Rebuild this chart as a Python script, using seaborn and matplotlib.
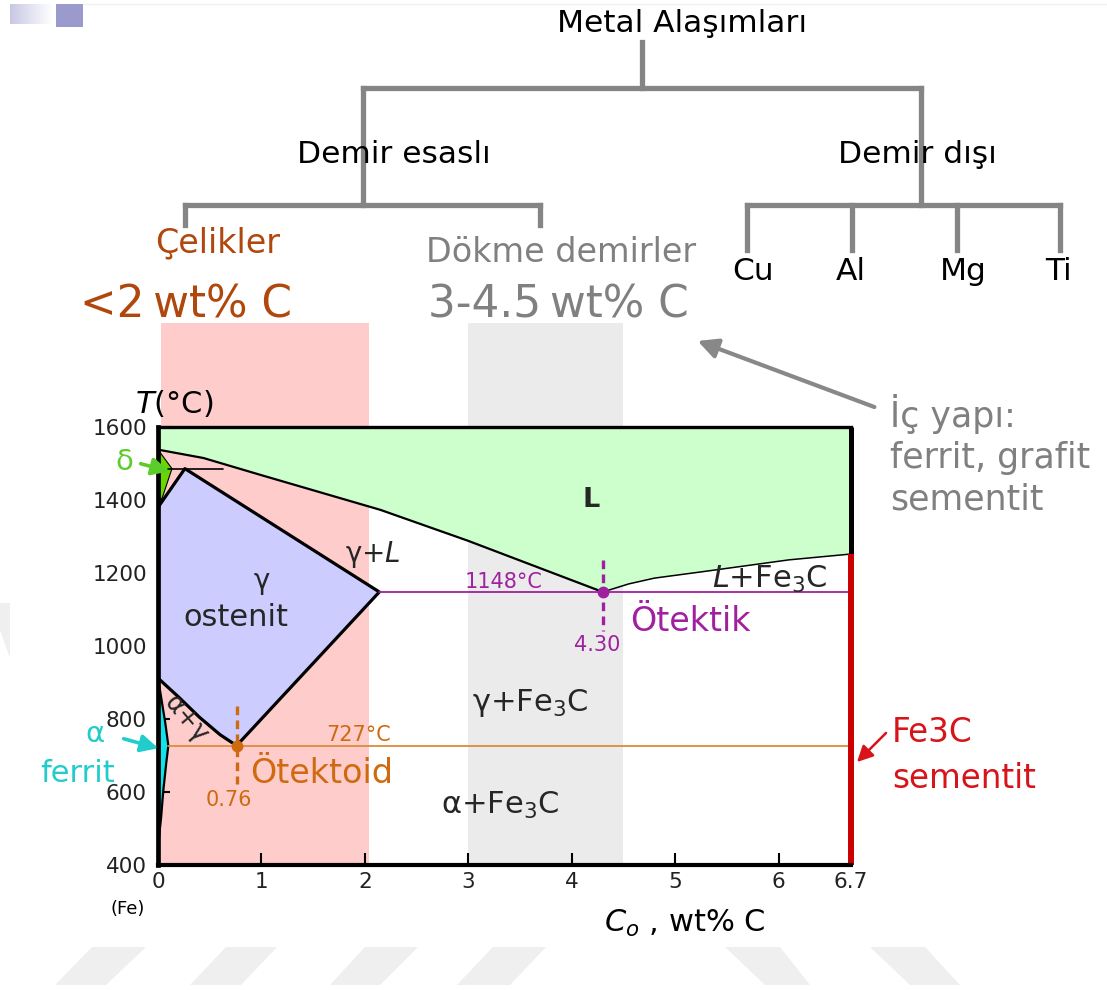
import numpy as np
import matplotlib
matplotlib.use("Agg")
import matplotlib.pyplot as plt
import seaborn as sns
from matplotlib.patches import Polygon, Rectangle

sns.set_theme(style="white")
plt.rcParams['font.family'] = ['DejaVu Sans']
plt.rcParams['mathtext.fontset'] = 'dejavusans'

# ---------------- data (wt% C, °C) ----------------
steel_range = [0.03, 2.04]          # Çelikler  (<2 wt% C)
cast_iron_range = [3.0, 4.5]        # Dökme demirler (3-4.5 wt% C)
band_top = 1885

liq_left_c = [0.0, 0.44, 1.0, 2.15, 3.0, 4.3]
liq_left_t = [1538, 1515, 1468, 1373, 1288, 1148]
liq_right_c = [4.3, 4.55, 4.8, 5.25, 6.1, 6.7]
liq_right_t = [1148, 1170, 1186, 1203, 1236, 1252]

delta_c = [0.0, 0.135, 0.04, 0.0]
delta_t = [1538, 1486, 1405, 1400]

gamma_c = [0.0, 0.26, 2.14, 0.76, 0.6, 0.4, 0.2, 0.0]
gamma_t = [1380, 1486, 1148, 727, 757, 805, 860, 912]

alpha_c = [0.0, 0.03, 0.07, 0.1, 0.08, 0.05, 0.03, 0.0]
alpha_t = [912, 860, 790, 727, 680, 600, 530, 450]

peritectic_c = [0.1, 0.63]
peritectic_t = 1486

eutectic_c, eutectic_t = 4.30, 1148
eutectoid_c, eutectoid_t = 0.76, 727
cementite_c = 6.7

x_ticks = [0, 1, 2, 3, 4, 5, 6, 6.7]
x_tick_labels = ["0", "1", "2", "3", "4", "5", "6", "6.7"]
y_ticks = [400, 600, 800, 1000, 1200, 1400, 1600]

# alloy tree
tree_root = "Metal Alaşımları"
tree_branches = ["Demir esaslı", "Demir dışı"]
nonferrous = ["Cu", "Al", "Mg", "Ti"]

# ---------------- colours ----------------
c_liquid = "#ccffcc"
c_gamma = "#ccccff"
c_delta = "#6ad600"
c_alpha = "#14e2ea"
c_steel = "#ffcccc"
c_cast = "#ebebeb"
c_purple = "#a020a0"
c_orange_line = "#e28a3a"
c_orange = "#d06a10"
c_red = "#d7141a"
c_grey = "#858585"
c_brown = "#b0470c"

fig = plt.figure(figsize=(11.07, 9.90), dpi=100)
fig.patch.set_facecolor("white")

ax = fig.add_axes([158 / 1107, (990 - 865) / 990, (851 - 158) / 1107, (865 - 427) / 990], zorder=2)
ax.set_xlim(0, 6.7)
ax.set_ylim(400, 1600)
ax.set_facecolor("white")

# composition bands
ax.add_patch(Rectangle((steel_range[0], 400), steel_range[1] - steel_range[0], band_top - 400,
                       facecolor=c_steel, edgecolor="none", clip_on=False, zorder=0))
ax.add_patch(Rectangle((cast_iron_range[0], 400), cast_iron_range[1] - cast_iron_range[0], band_top - 400,
                       facecolor=c_cast, edgecolor="none", clip_on=False, zorder=0))

# phase fields
liq_poly = ([(0, 1600), (6.7, 1600)] + list(zip(liq_right_c[::-1], liq_right_t[::-1]))
            + list(zip(liq_left_c[::-1], liq_left_t[::-1])))
ax.add_patch(Polygon(liq_poly, closed=True, facecolor=c_liquid, edgecolor="none", zorder=1))
ax.add_patch(Polygon(list(zip(gamma_c, gamma_t)), closed=True, facecolor=c_gamma, edgecolor="none", zorder=1))
ax.add_patch(Polygon(list(zip(delta_c, delta_t)), closed=True, facecolor=c_delta, edgecolor="black", lw=0.8, zorder=1))
ax.add_patch(Polygon(list(zip(alpha_c, alpha_t)), closed=True, facecolor=c_alpha, edgecolor="none", zorder=1))

# phase boundaries
sns.lineplot(x=liq_left_c, y=liq_left_t, sort=False, estimator=None, color="black", lw=1.6, ax=ax, zorder=3)
sns.lineplot(x=liq_right_c, y=liq_right_t, sort=False, estimator=None, color="black", lw=1.1, ax=ax, zorder=3)
sns.lineplot(x=gamma_c, y=gamma_t, sort=False, estimator=None, color="black", lw=2.3, ax=ax, zorder=3)
sns.lineplot(x=alpha_c, y=alpha_t, sort=False, estimator=None, color="black", lw=1.6, ax=ax, zorder=3)
sns.lineplot(x=peritectic_c, y=[peritectic_t] * 2, sort=False, estimator=None, color="black", lw=1.2, ax=ax, zorder=3)

# eutectic and eutectoid isotherms
sns.lineplot(x=[gamma_c[2], cementite_c], y=[eutectic_t] * 2, sort=False, estimator=None,
             color=c_purple, lw=1.3, ax=ax, zorder=3)
sns.lineplot(x=[alpha_c[3], cementite_c], y=[eutectoid_t] * 2, sort=False, estimator=None,
             color=c_orange_line, lw=1.3, ax=ax, zorder=3)
ax.plot([eutectic_c] * 2, [1236, 1040], color=c_purple, lw=2.4, ls=(0, (2.6, 1.6)), zorder=3)
ax.plot([eutectoid_c] * 2, [836, 622], color=c_orange, lw=2.4, ls=(0, (2.6, 1.6)), zorder=3)
ax.plot([eutectic_c], [eutectic_t], "o", color=c_purple, ms=7.5, zorder=4)
ax.plot([eutectoid_c], [eutectoid_t], "o", color=c_orange, ms=7.5, zorder=4)

# frame, with the Fe3C line forming the right edge
ax.spines["right"].set_visible(False)
ax.spines["left"].set_linewidth(3.4)
ax.spines["bottom"].set_linewidth(3.0)
ax.spines["top"].set_linewidth(2.4)
for s in ["left", "bottom", "top"]:
    ax.spines[s].set_color("black")
    ax.spines[s].set_zorder(5)
ax.plot([cementite_c] * 2, [1600, liq_right_t[-1]], color="black", lw=3.6, clip_on=False, zorder=5,
        solid_capstyle="butt")
ax.plot([cementite_c] * 2, [liq_right_t[-1], 400], color="#cc0000", lw=4.3, clip_on=False, zorder=5,
        solid_capstyle="butt")

ax.set_xticks(x_ticks)
ax.set_xticklabels(x_tick_labels)
ax.set_yticks(y_ticks)
ax.tick_params(axis="both", direction="in", length=8.5, width=1.5, colors="black",
               labelsize=15.5, labelcolor="#222222", bottom=True, left=True)
ax.tick_params(axis="y", pad=8)
ax.tick_params(axis="x", pad=5)
ax.set_xlabel("")
ax.set_ylabel("")
ax.grid(False)

# field labels
ax.text(4.19, 1400, "L", fontsize=19.5, fontweight="bold", ha="center", va="center", zorder=6)
ax.text(1.81, 1230, "γ+$L$", fontsize=20, ha="left", va="baseline", zorder=6)
ax.text(1.0, 1178, "γ", fontsize=20, ha="center", va="center", zorder=6)
ax.text(0.75, 1079, "ostenit", fontsize=22, ha="center", va="center", zorder=6)
ax.text(3.34, 1175, "1148°C", fontsize=15, color=c_purple, ha="center", va="center", zorder=6)
ax.text(5.36, 1159, "$L$+Fe$_3$C", fontsize=22, ha="left", va="baseline", zorder=6)
ax.text(4.56, 1041, "Ötektik", fontsize=24, color=c_purple, ha="left", va="baseline", zorder=6)
ax.text(4.25, 1003, "4.30", fontsize=15, color=c_purple, ha="center", va="center", zorder=6)
ax.text(3.6, 844, "γ+Fe$_3$C", fontsize=22, ha="center", va="center", zorder=6)
ax.text(1.63, 740, "727°C", fontsize=15, color=c_orange, ha="left", va="baseline", zorder=6)
ax.text(0.89, 625, "Ötektoid", fontsize=24, color=c_orange, ha="left", va="baseline", zorder=6)
ax.text(0.69, 578, "0.76", fontsize=15, color=c_orange, ha="center", va="center", zorder=6)
ax.text(3.31, 564, "α+Fe$_3$C", fontsize=22, ha="center", va="center", zorder=6)
ax.text(0.27, 800, "α+γ", fontsize=18.5, rotation=-50, ha="center", va="center", zorder=6)

# ---------------- overlay in pixel coordinates ----------------
ov = fig.add_axes([0, 0, 1, 1], zorder=6)
ov.set_xlim(0, 1107)
ov.set_ylim(990, 0)
ov.axis("off")
ov.patch.set_alpha(0)

# page decoration
grad = np.linspace(0, 1, 64)[None, :]
ov.imshow(grad, cmap=matplotlib.colors.LinearSegmentedColormap.from_list("g", ["#c8c8e6", "#ffffff"]),
          extent=[10, 53, 24, 4], aspect="auto", zorder=1)
ov.add_patch(Rectangle((56, 4), 27, 23, facecolor="#9a9acc", edgecolor="none"))
ov.plot([83, 1107], [4, 4], color="#f0f0f0", lw=1)

stripes = [
    [(92, 947), (146, 947), (106, 985), (55, 985)],
    [(226, 947), (277, 947), (241, 985), (190, 985)],
    [(365, 947), (418, 947), (380, 985), (330, 985)],
    [(493, 947), (546, 947), (510, 985), (457, 985)],
    [(725, 947), (780, 947), (810, 985), (765, 985)],
    [(870, 947), (925, 947), (960, 985), (910, 985)],
    [(0, 603), (10, 603), (10, 658), (0, 630)],
]
for s in stripes:
    ov.add_patch(Polygon(s, closed=True, facecolor="#efefef", edgecolor="none", zorder=0))

# alloy tree
tree_lines = [
    ([642, 642], [42, 88]), ([363, 921], [88, 88]),
    ([363, 363], [88, 205]), ([185, 540], [205, 205]),
    ([185, 185], [205, 225]), ([540, 540], [205, 225]),
    ([921, 921], [88, 205]), ([747, 1060], [205, 205]),
    ([747, 747], [205, 250]), ([852, 852], [205, 250]),
    ([957, 957], [205, 250]), ([1060, 1060], [205, 250]),
]
for xs, ys in tree_lines:
    ov.plot(xs, ys, color=c_grey, lw=3.8, solid_capstyle="projecting", zorder=2)

ov.text(557, 32, tree_root, fontsize=22.5, color="black", ha="left", va="baseline", zorder=3)
ov.text(297, 163, tree_branches[0], fontsize=22.5, color="black", ha="left", va="baseline", zorder=3)
ov.text(838, 163, tree_branches[1], fontsize=22.5, color="black", ha="left", va="baseline", zorder=3)
for name, xc in zip(nonferrous, [753, 851, 963, 1058]):
    ov.text(xc, 280, name, fontsize=22.5, color="black", ha="center", va="baseline", zorder=3)

ov.text(155, 252, "Çelikler", fontsize=24, color=c_brown, ha="left", va="baseline")
ov.text(80, 317, "<2\u2009wt% C", fontsize=31.5, color=c_brown, ha="left", va="baseline")
ov.text(426, 262, "Dökme demirler", fontsize=24, color="#808080", ha="left", va="baseline")
ov.text(428, 318, "3-4.5\u2009wt% C", fontsize=31.5, color="#808080", ha="left", va="baseline")

ov.annotate("", xy=(695, 340), xytext=(877, 408),
            arrowprops=dict(arrowstyle="-|>", color="#888888", lw=3.0, mutation_scale=30))
ov.text(890, 427, "İç yapı:", fontsize=25, color="#808080", ha="left", va="baseline")
ov.text(890, 468, "ferrit, grafit", fontsize=25, color="#808080", ha="left", va="baseline")
ov.text(890, 510, "sementit", fontsize=25, color="#808080", ha="left", va="baseline")

ov.text(135, 413, "$T$(°C)", fontsize=22, color="black", ha="left", va="baseline")
ov.text(685, 932, "$C_o$ , wt% C", fontsize=22, color="black", ha="center", va="baseline")
ov.text(128, 909, "(Fe)", fontsize=13, color="black", ha="center", va="center")

# phase callouts
ov.text(124, 470, "δ", fontsize=21, color="#5ccc2a", ha="center", va="baseline")
ov.annotate("", xy=(172, 472), xytext=(138, 463),
            arrowprops=dict(arrowstyle="-|>", color="#5ccc2a", lw=2.6, mutation_scale=26))
ov.text(95, 742, "α", fontsize=21, color="#22cccc", ha="center", va="baseline")
ov.text(78, 782, "ferrit", fontsize=22, color="#22cccc", ha="center", va="baseline")
ov.annotate("", xy=(161, 749), xytext=(121, 738),
            arrowprops=dict(arrowstyle="-|>", color="#22cccc", lw=2.6, mutation_scale=26))

ov.text(892, 742, "Fe3C", fontsize=23.5, color=c_red, ha="left", va="baseline")
ov.text(892, 788, "sementit", fontsize=23.5, color=c_red, ha="left", va="baseline")
ov.annotate("", xy=(855, 764), xytext=(888, 731),
            arrowprops=dict(arrowstyle="-|>", color=c_red, lw=1.8, mutation_scale=24))

fig.savefig("out.png", dpi=100, facecolor="white")
